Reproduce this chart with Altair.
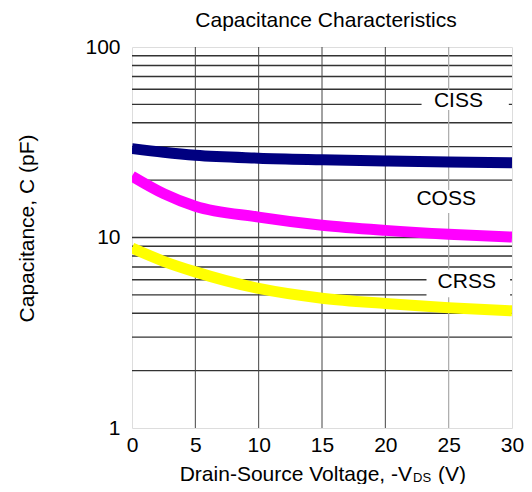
import altair as alt
import pandas as pd

# ---- data ----
voltage = [0, 2.5, 5, 10, 15, 20, 25, 30]
ciss = [29.3, 28.0, 27.0, 26.1, 25.6, 25.2, 24.9, 24.7]
coss = [21.0, 17.0, 14.6, 12.8, 11.6, 10.9, 10.4, 10.05]
crss = [8.8, 7.5, 6.6, 5.4, 4.8, 4.5, 4.28, 4.12]
series_names = ["CISS", "COSS", "CRSS"]
series_colors = ["#000080", "#ff00ff", "#ffff00"]

y_grid = [2, 3, 4, 5, 6, 7, 8, 9, 10, 20, 30, 40, 50, 60, 70, 80, 90]
x_grid_dark = [5, 10, 15, 20]
x_grid_light = [25]
x_ticks = [0, 5, 10, 15, 20, 25, 30]
y_ticks = [1, 10, 100]

label_text = ["CISS", "COSS", "CRSS"]
label_x = [25.77, 24.8, 26.43]
label_y = [52.1, 15.83, 5.84]
box_x1 = [22.86, 22.1, 23.25]
box_x2 = [29.75, 27.6, 29.85]
box_y1 = [46.7, 13.45, 4.85]
box_y2 = [59.5, 17.76, 6.8]

FONT = "Liberation Sans"

rows = []
for name, vals in zip(series_names, [ciss, coss, crss]):
    for v, c in zip(voltage, vals):
        rows.append({"V": v, "C": c, "series": name})
curves_df = pd.DataFrame(rows)

xscale = alt.Scale(domain=[0, 30], nice=False, zero=False)
yscale = alt.Scale(type="log", domain=[1, 100], nice=False)

xaxis = alt.Axis(values=x_ticks, labelFontSize=21, labelFont=FONT, labelColor="black",
                 ticks=False, tickSize=0, domain=False, grid=False, labelPadding=6,
                 labelFlush=False, labelOverlap=False, title=None)
yaxis = alt.Axis(values=y_ticks, format="d", labelFontSize=21, labelFont=FONT,
                 labelColor="black", ticks=False, tickSize=0, domain=False, grid=False,
                 labelPadding=12, labelFlush=False, labelOverlap=False,
                 title="Capacitance, C (pF)", titleFont=FONT, titleFontSize=21,
                 titleFontWeight="normal", titleColor="black", titleAngle=270,
                 titleBaseline="bottom", titleAlign="center", titleX=-95, titleY=181)

X = lambda f: alt.X(f, type="quantitative", scale=xscale, axis=xaxis)
Y = lambda f: alt.Y(f, type="quantitative", scale=yscale, axis=yaxis)

hgrid = alt.Chart(pd.DataFrame({"g": y_grid})).mark_rule(
    color="#333333", strokeWidth=1.4).encode(y=Y("g"))
vgrid_dark = alt.Chart(pd.DataFrame({"g": x_grid_dark})).mark_rule(
    color="#444444", strokeWidth=1).encode(x=X("g"))
vgrid_light = alt.Chart(pd.DataFrame({"g": x_grid_light})).mark_rule(
    color="#aaaaaa", strokeWidth=1.2).encode(x=X("g"))

boxes = alt.Chart(pd.DataFrame({"x1": box_x1, "x2": box_x2, "y1": box_y1, "y2": box_y2})).mark_rect(
    color="white").encode(x=X("x1"), x2="x2", y=Y("y1"), y2="y2")

curves = alt.Chart(curves_df).mark_line(
    interpolate="monotone", strokeWidth=11, clip=True, strokeCap="butt").encode(
    x=X("V"), y=Y("C"),
    color=alt.Color("series:N", scale=alt.Scale(domain=series_names, range=series_colors), legend=None),
    detail="series:N")

labels = alt.Chart(pd.DataFrame({"t": label_text, "x": label_x, "y": label_y})).mark_text(
    font=FONT, fontSize=21, color="black", align="center", baseline="middle").encode(
    x=X("x"), y=Y("y"), text="t")

title_df = pd.DataFrame({"t": ["Capacitance Characteristics"]})
plot_title = alt.Chart(title_df).mark_text(
    font=FONT, fontSize=21, color="black", align="center", baseline="alphabetic").encode(
    x=alt.value(194), y=alt.value(-20), text="t")

xt1 = alt.Chart(pd.DataFrame({"t": ["Drain-Source Voltage, -V"]})).mark_text(
    font=FONT, fontSize=21, color="black", align="right", baseline="alphabetic").encode(
    x=alt.value(280), y=alt.value(434), text="t")
xt2 = alt.Chart(pd.DataFrame({"t": ["DS"]})).mark_text(
    font=FONT, fontSize=13, color="black", align="left", baseline="alphabetic").encode(
    x=alt.value(281), y=alt.value(435), text="t")
xt3 = alt.Chart(pd.DataFrame({"t": ["(V)"]})).mark_text(
    font=FONT, fontSize=21, color="black", align="left", baseline="alphabetic").encode(
    x=alt.value(306), y=alt.value(434), text="t")

chart = alt.layer(hgrid, vgrid_dark, vgrid_light, boxes, curves, labels,
                  plot_title, xt1, xt2, xt3).properties(
    width=380, height=381,
    autosize=alt.AutoSizeParams(type="none"),
    padding={"left": 124, "top": 39, "right": 12, "bottom": 56},
).configure_view(stroke="black", strokeWidth=2).configure(background="white")

chart.save("out.html", embed_options={"renderer": "svg", "actions": False})
